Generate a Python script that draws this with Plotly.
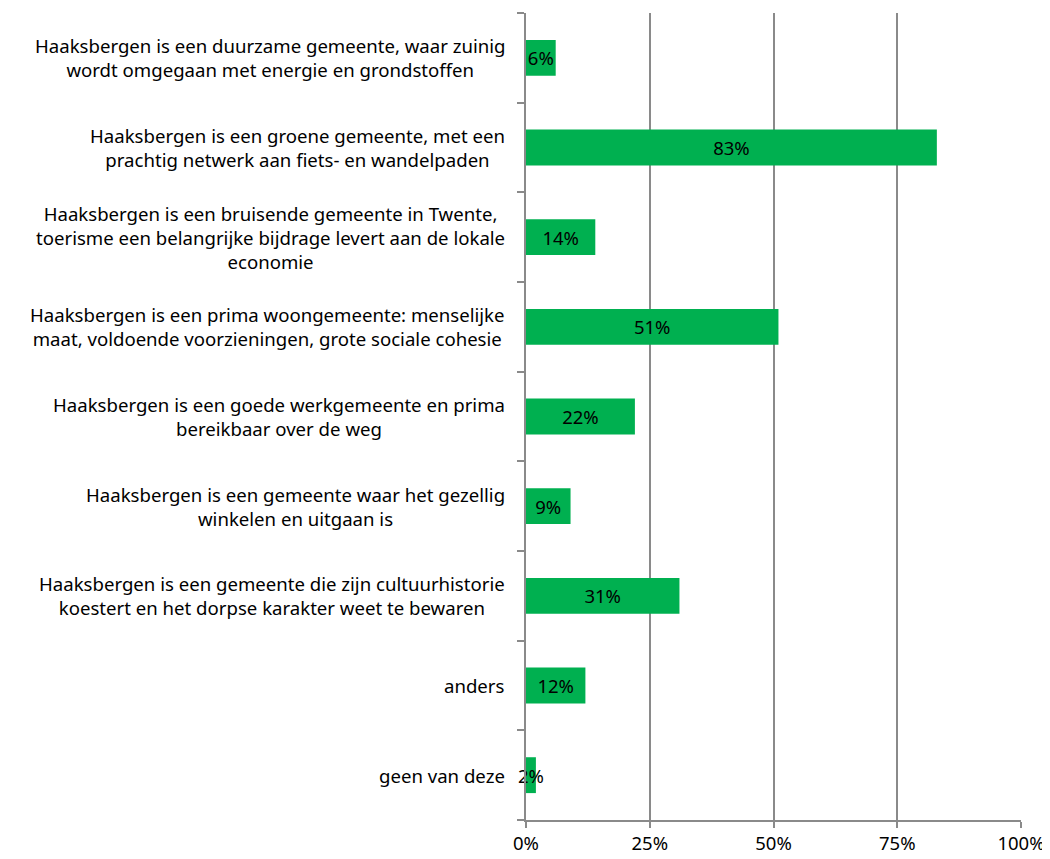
import plotly.graph_objects as go

categories = [
    "Haaksbergen is een duurzame gemeente, waar zuinig<br>wordt omgegaan met energie en grondstoffen",
    "Haaksbergen is een groene gemeente, met een<br>prachtig netwerk aan fiets- en wandelpaden",
    "Haaksbergen is een bruisende gemeente in Twente,<br>toerisme een belangrijke bijdrage levert aan de lokale<br>economie",
    "Haaksbergen is een prima woongemeente: menselijke<br>maat, voldoende voorzieningen, grote sociale cohesie",
    "Haaksbergen is een goede werkgemeente en prima<br>bereikbaar over de weg",
    "Haaksbergen is een gemeente waar het gezellig<br>winkelen en uitgaan is",
    "Haaksbergen is een gemeente die zijn cultuurhistorie<br>koestert en het dorpse karakter weet te bewaren",
    "anders",
    "geen van deze",
]
values = [6, 83, 14, 51, 22, 9, 31, 12, 2]
x_ticks = [0, 25, 50, 75, 100]
x_tick_labels = ["0%", "25%", "50%", "75%", "100%"]

positions = list(range(len(categories)))
FONT = "Noto Sans"
GRID = "#8a8a8a"

fig = go.Figure()
fig.add_trace(go.Bar(
    x=values,
    y=positions,
    orientation="h",
    marker=dict(color="#00b050", line=dict(width=0)),
    width=0.4,
    text=[f"{v}%" for v in values],
    textposition="inside",
    insidetextanchor="middle",
    constraintext="none",
    textangle=0,
    textfont=dict(family=FONT, size=18.5, color="black"),
    cliponaxis=False,
    hoverinfo="skip",
))

for p, c in zip(positions, categories):
    fig.add_annotation(
        x=0, xref="paper", y=p, yref="y",
        text=c, showarrow=False, xanchor="right", yanchor="middle",
        align="center", xshift=-19,
        font=dict(family=FONT, size=18.6, color="black"),
    )

boundaries = [p - 0.5 for p in positions] + [positions[-1] + 0.5]

fig.update_layout(
    width=1050, height=859,
    margin=dict(l=518, r=37, t=5, b=47),
    plot_bgcolor="white", paper_bgcolor="white",
    showlegend=False,
    xaxis=dict(
        range=[0, 100], tickvals=x_ticks, ticktext=x_tick_labels,
        showgrid=True, gridcolor=GRID, gridwidth=2,
        showline=True, linecolor=GRID, linewidth=2,
        ticks="outside", ticklen=6, tickcolor=GRID, tickwidth=2,
        zeroline=False,
        tickfont=dict(family=FONT, size=18.5, color="black"),
    ),
    yaxis=dict(
        range=[boundaries[-1], boundaries[0]],
        tickvals=boundaries, showticklabels=False,
        showgrid=False, zeroline=False,
        showline=True, linecolor=GRID, linewidth=2,
        ticks="outside", ticklen=7, tickcolor=GRID, tickwidth=2,
    ),
)

fig.write_html("out.html")
